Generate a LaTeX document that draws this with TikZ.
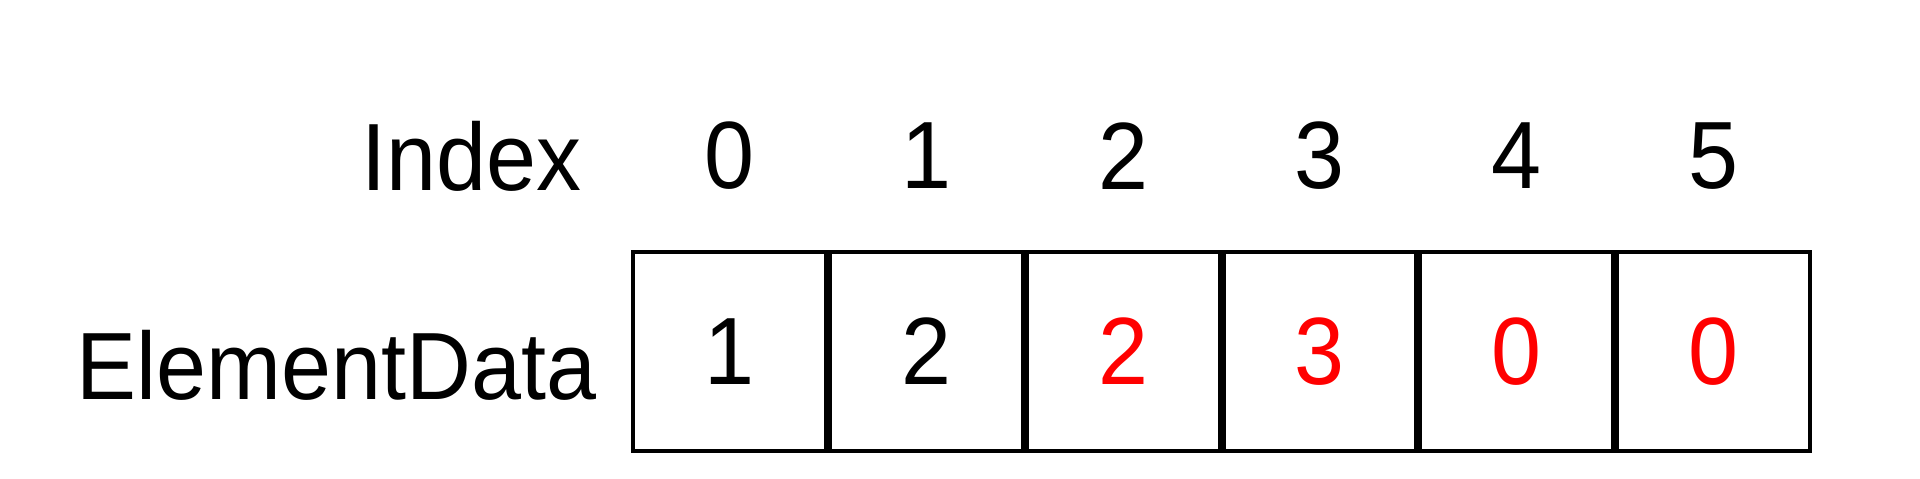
\documentclass[tikz,border=0pt]{standalone}
\usepackage{fontspec}
\setmainfont{Liberation Sans}[FakeStretch=0.94]
\tikzset{>=latex}
\usetikzlibrary{positioning}
\tikzset{
  cell/.style={draw, line width=0.04cm, minimum width=1.928cm, minimum height=1.99cm, inner sep=0pt},
  lbl/.style={inner sep=0pt},
}
\begin{document}
\begin{tikzpicture}[font=\fontsize{27.2pt}{32pt}\selectfont]
  \useasboundingbox (0,0) rectangle (19.2,4.78);
  % array cells
  \node[cell] (c0) at (7.295,1.265) {1};
  \foreach \v/\n/\p/\col in {2/1/0/black, 2/2/1/red, 3/3/2/red, 0/4/3/red, 0/5/4/red}
    \node[cell, right of=c\p, node distance=1.968cm, text=\col] (c\n) {\v};
  % index row
  \foreach \n in {0,...,5}
    \node[lbl, above of=c\n, node distance=1.955cm] (i\n) {\n};
  \node[lbl, anchor=east] (idx) at (5.82,3.22) {Index};
  \node[lbl, anchor=east] (data) at (5.97,1.13) {ElementData};
\end{tikzpicture}
\end{document}
